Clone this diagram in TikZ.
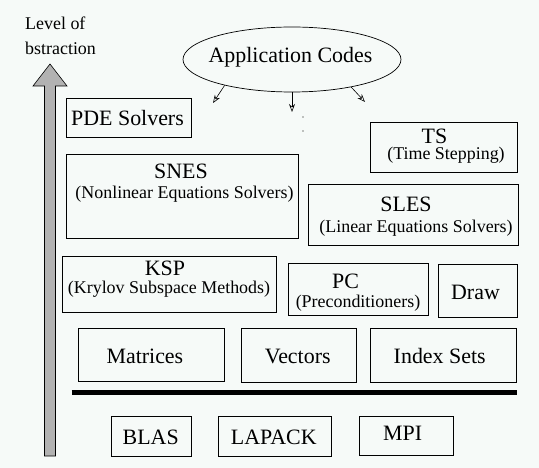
\documentclass[tikz,border=0pt]{standalone}
\usepackage{fontspec}
\setmainfont{Liberation Serif}
\usetikzlibrary{shapes.geometric,arrows.meta}
\definecolor{bgcol}{RGB}{246,250,248}
\definecolor{arrowgray}{RGB}{178,178,178}
\tikzset{
  box/.style={draw=black, line width=0.9bp, rectangle, inner sep=0pt},
  title/.style={font=\fontsize{22}{26}\selectfont, inner sep=0pt, anchor=base},
  sub/.style={font=\fontsize{18}{21}\selectfont, inner sep=0pt, anchor=base},
  appar/.style={line width=0.6bp, -{Stealth[open, length=8bp, width=6bp]}},
}
\begin{document}
\begin{tikzpicture}[x=1bp, y=-1bp]
\useasboundingbox (0,0) rectangle (539,468);
\fill[bgcol] (0,0) rectangle (539,468);

% level of abstraction arrow
\filldraw[fill=arrowgray, draw=black, line width=0.6bp]
  (44.5,456) -- (44.5,86) -- (33,86) -- (50,64) -- (67,86) -- (55.5,86) -- (55.5,456) -- cycle;
\node[sub, anchor=base west] (lev1) at (25,29.5) {Level of};
\node[sub, anchor=base west] (lev2) at (25,54.3) {bstraction};

% application codes
\node[draw=black, line width=0.7bp, ellipse, inner sep=0pt, minimum width=218bp, minimum height=65bp] (app) at (292,59.5) {};
\node[title] (appT) at (290.5,63) {Application Codes};
\coordinate (al) at (213,103);
\coordinate (am) at (292,112);
\coordinate (ar) at (365,102);
\draw[appar] (app.201) -- (al);
\draw[appar] (app.270) -- (am);
\draw[appar] (app.335) -- (ar);
\fill (303,117) circle (0.7bp);
\fill (303,131) circle (0.7bp);

% boxes
\node[box, minimum width=125bp, minimum height=39bp] (pde) at (128.5,117.5) {};
\node[box, minimum width=232bp, minimum height=84bp] (snes) at (182,196) {};
\node[box, minimum width=147bp, minimum height=50bp] (ts) at (443.5,147) {};
\node[box, minimum width=210bp, minimum height=61bp] (sles) at (413,214.5) {};
\node[box, minimum width=214bp, minimum height=56bp] (ksp) at (169,284) {};
\node[box, minimum width=140bp, minimum height=52bp] (pc) at (358,289) {};
\node[box, minimum width=79bp, minimum height=53bp] (drw) at (477.5,290.5) {};
\node[box, minimum width=146.5bp, minimum height=53bp] (mat) at (151.25,354.5) {};
\node[box, minimum width=115.5bp, minimum height=54bp] (vec) at (298.75,355) {};
\node[box, minimum width=146.3bp, minimum height=54bp] (idx) at (443.15,355) {};
\node[box, minimum width=80bp, minimum height=40bp] (blas) at (151,436) {};
\node[box, minimum width=113bp, minimum height=40bp] (lapack) at (274.85,436) {};
\node[box, minimum width=94.4bp, minimum height=39bp] (mpi) at (406.2,435.5) {};

% texts
\node[title] (pdeT) at (127.5,126) {PDE Solvers};
\node[title] (snesT) at (181,179) {SNES};
\node[sub] (snesS) at (184.5,198.5) {(Nonlinear Equations Solvers)};
\node[title] (kspT) at (165,275) {KSP};
\node[sub] (kspS) at (169,293) {(Krylov Subspace Methods)};
\node[title] (tsT) at (434.5,144) {TS};
\node[sub] (tsS) at (446,160) {(Time Stepping)};
\node[title] (slesT) at (406,212) {SLES};
\node[sub] (slesS) at (416,233) {(Linear Equations Solvers)};
\node[title] (pcT) at (345.5,288) {PC};
\node[sub] (pcS) at (358,307) {(Preconditioners)};
\node[title] (drwT) at (475.5,299) {Draw};
\node[title] (matT) at (144.9,363.3) {Matrices};
\node[title] (vecT) at (297.7,363.5) {Vectors};
\node[title] (idxT) at (439.7,363.5) {Index Sets};
\node[title] (blasT) at (150.7,444) {BLAS};
\node[title] (lapackT) at (273.8,444) {LAPACK};
\node[title] (mpiT) at (402.7,440.7) {MPI};

% separator
\draw[line width=5bp] (71.5,392) -- (516.7,392);
\end{tikzpicture}
\end{document}
